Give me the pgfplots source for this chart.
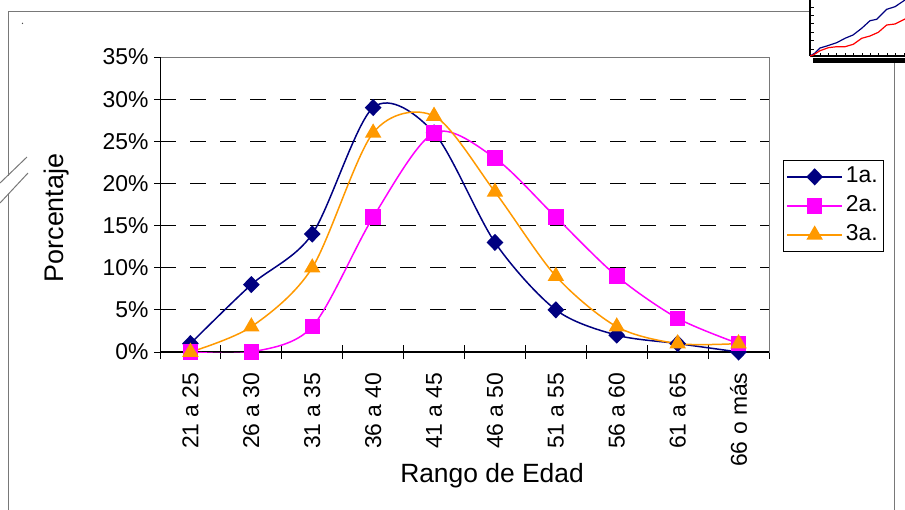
\documentclass[border=0pt]{standalone}
\usepackage{fontspec}
\setmainfont{Liberation Sans}
\usepackage{pgfplots}
\pgfplotsset{compat=1.18}
\definecolor{navy}{RGB}{0,0,128}
\definecolor{mag}{RGB}{255,0,255}
\definecolor{orng}{RGB}{255,153,0}
\definecolor{frame}{RGB}{120,120,120}
\begin{document}
\begin{tikzpicture}
\path[use as bounding box] (0bp,0bp) rectangle (905bp,-510bp);
% outer frame
\draw[frame, line width=1bp] (810bp,-11bp) -- (8bp,-11bp) -- (8bp,-176bp);
\draw[frame, line width=1bp] (8bp,-194bp) -- (8bp,-512bp);
\draw[frame, line width=1bp] (0bp,-183bp) -- (27bp,-157bp);
\draw[frame, line width=1bp] (0bp,-203bp) -- (28bp,-173bp);
\draw[frame, line width=1bp] (894bp,-63bp) -- (894bp,-512bp);
\fill[black!70] (22.5bp,-23.3bp) circle (0.7bp);

\begin{axis}[
  at={(160bp,-352bp)}, anchor=south west,
  scale only axis, width=609bp, height=295bp,
  xmin=-0.5, xmax=9.5, ymin=0, ymax=35,
  axis line style={draw=frame, line width=0.8bp},
  xtick={0,...,9},
  xticklabels={21 a 25,26 a 30,31 a 35,36 a 40,41 a 45,46 a 50,51 a 55,56 a 60,61 a 65,66 o más},
  xtick pos=bottom, ytick pos=left,
  major x tick style={draw=none},
  minor xtick={-0.5,0.5,...,9.5},
  minor tick length=14bp,
  minor x tick style={black, line width=1bp, yshift=7bp},
  ytick={0,5,...,35},
  major tick length=6bp,
  tick align=outside,
  major y tick style={black, line width=1bp},
  ymajorgrids,
  grid style={black, line width=0.8bp, dash pattern=on 16bp off 14bp},
  yticklabel={\pgfmathprintnumber{\tick}\%},
  /pgf/number format/assume math mode=true,
  tick label style={font=\fontsize{23}{23}\selectfont},
  xticklabel style={rotate=90, anchor=east},
  xticklabel shift=11bp,
  yticklabel shift=2bp,
  legend style={at={(1.023,0.651)}, anchor=north west, draw=black, line width=0.8bp,
    fill=white, font=\fontsize{23}{23}\selectfont, inner xsep=3bp, inner ysep=2bp,
    row sep=0bp, nodes={inner sep=3bp, text height=17bp, text depth=6bp}},
  legend cell align=left,
  legend image code/.code={\draw[mark repeat=2,mark phase=2,#1] plot coordinates {(0bp,0bp) (27.5bp,0bp) (55bp,0bp)};},
]
\draw[black, line width=1.5bp] (rel axis cs:0,1) -- (rel axis cs:0,0) -- (rel axis cs:1,0);
\addplot[navy, line width=1.5bp, smooth, tension=0.5, mark=diamond*, mark size=7.5bp, mark options={solid, xscale=1.3}]
  coordinates {(0,1) (1,8) (2,14) (3,29) (4,26) (5,13) (6,5) (7,2) (8,1) (9,0)};
\addplot[mag, line width=1.5bp, smooth, tension=0.5, mark=square*, mark size=7bp, mark options={solid}]
  coordinates {(0,0) (1,0) (2,3) (3,16) (4,26) (5,23) (6,16) (7,9) (8,4) (9,1)};
\addplot[orng, line width=1.5bp, smooth, tension=0.5, mark=triangle*, mark size=8bp, mark options={solid}]
  coordinates {(0,0) (1,3) (2,10) (3,26) (4,28) (5,19) (6,9) (7,3) (8,1) (9,1)};
\legend{1a.,2a.,3a.}
\end{axis}

\node[rotate=90, font=\fontsize{27}{27}\selectfont] at (57bp,-218bp) {Porcentaje};
\node[anchor=base, font=\fontsize{26.5}{26.5}\selectfont] at (492bp,-482bp) {Rango de Edad};

% inset chart (top right)
\fill[white] (810bp,0bp) rectangle (905bp,-63bp);
\fill[black] (813bp,-58bp) rectangle (905bp,-63bp);
\begin{axis}[
  at={(810bp,-56bp)}, anchor=south west,
  scale only axis, width=95bp, height=56bp,
  xmin=810, xmax=905, ymin=0, ymax=56,
  axis x line*=bottom, axis y line*=left,
  axis line style={black, line width=2bp, -},
  xtick={820,828.4,...,904}, ytick={7,15.4,...,49.3},
  xticklabels={}, yticklabels={},
  tick align=inside, major tick length=3.5bp,
  tick style={black, line width=0.8bp},
]
\addplot[navy, line width=1.2bp] coordinates {(810,0) (815,3) (820,8) (826.7,10) (836.7,13.3) (845,17.7) (853,21) (861.7,27.7) (870,35.3) (876.7,36.7) (886.7,46.7) (895,49.3) (905,56)};
\addplot[red, line width=1.2bp] coordinates {(810,0) (813.3,1) (820,5.3) (828.3,8.3) (836.7,9.3) (845,9.3) (853.3,11.7) (861.7,17.7) (870,20) (878.3,23.7) (886.7,31) (895,32) (905,37)};
\end{axis}
\end{tikzpicture}
\end{document}
